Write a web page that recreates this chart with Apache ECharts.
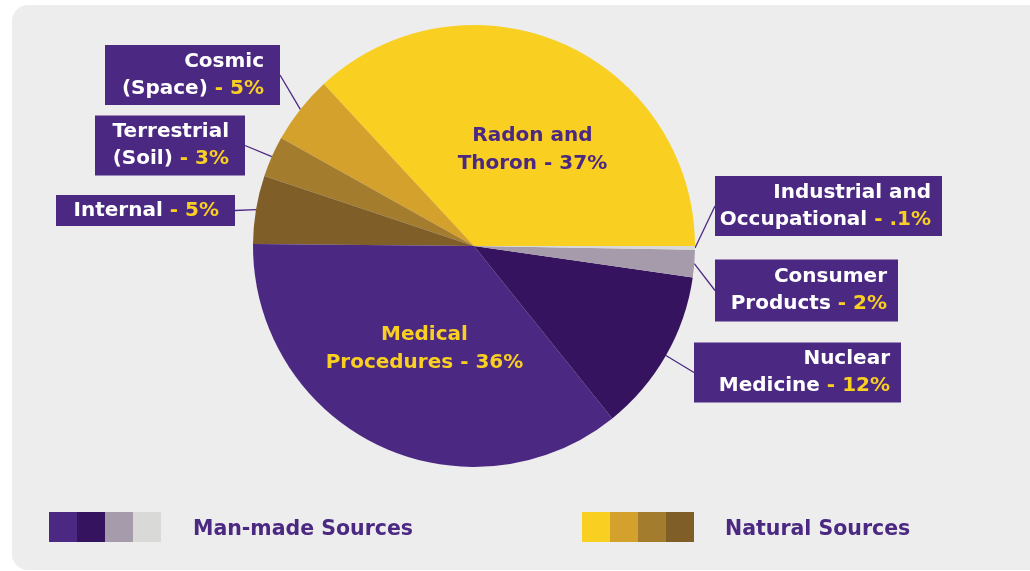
<!DOCTYPE html>
<html><head><meta charset="utf-8">
<script src="https://cdn.jsdelivr.net/npm/echarts@6/dist/echarts.min.js"></script>
<style>html,body{margin:0;padding:0;background:#fff;} #c{width:1030px;height:571px;}</style>
</head><body><div id="c"></div>
<script>
// ---- data ----
const categories = ['Radon and\nThoron', 'Cosmic\n(Space)', 'Terrestrial\n(Soil)', 'Internal',
  'Medical\nProcedures', 'Nuclear\nMedicine', 'Consumer\nProducts', 'Industrial and\nOccupational'];
const values = [37, 5, 3, 5, 36, 12, 2, 0.1];
const percentLabels = ['37%', '5%', '3%', '5%', '36%', '12%', '2%', '.1%'];
const sliceColors = ['#F9CF22', '#D4A22C', '#A47C2E', '#7F5E28', '#4B2882', '#36135F', '#A59BAA', '#D9D9D7'];
const groupNames = ['Man-made Sources', 'Natural Sources'];
const groupColors = [['#4B2882', '#36135F', '#A59BAA', '#D9D9D7'], ['#F9CF22', '#D4A22C', '#A47C2E', '#7F5E28']];

// ---- style / layout ----
const FONT = '"DejaVu Sans"';
const FS = 20;
const FS_LEGEND = 20.5;
const PURPLE = '#4B2882';
const YELLOW = '#F9CF22';
const insideIdx = [0, 4];
const insideColor = { 0: PURPLE, 4: YELLOW };
const insideOffset = { 0: [13, 8], 4: [0, 1] };
// outside label boxes: [anchorX, centerY, align, contentWidth, padding]
const labelBox = {
  1: [280, 75, 'right', 147, [3, 16, 3, 12]],
  2: [245, 145.5, 'right', 124, [3, 16, 3, 10]],
  3: [235, 210.5, 'right', 163, [2, 16, 2, 0]],
  5: [694, 372.5, 'left', 189, [3, 11, 3, 7]],
  6: [715, 290.5, 'left', 165, [4, 11, 4, 7]],
  7: [715, 206, 'left', 209, [3, 11, 3, 7]]
};

function outsideText(i) {
  const lines = categories[i].split('\n');
  return lines.map((l, k) => k === lines.length - 1
    ? '{w|' + l + '}{y| - ' + percentLabels[i] + '}'
    : '{w|' + l + '}').join('\n');
}

const data = categories.map((c, i) => {
  const item = { name: c, value: values[i], itemStyle: { color: sliceColors[i] } };
  if (insideIdx.includes(i)) {
    item.label = {
      position: 'inside', color: insideColor[i],
      formatter: c + ' - ' + percentLabels[i],
      fontFamily: FONT, fontWeight: 'bold', fontSize: FS, lineHeight: 28, align: 'center'
    };
    item.labelLine = { show: false };
  } else {
    const b = labelBox[i];
    item.label = {
      position: 'outside',
      formatter: outsideText(i),
      backgroundColor: PURPLE, padding: b[4], width: b[3], overflow: 'none',
      align: 'right',
      rich: {
        w: { color: '#fff', fontFamily: FONT, fontWeight: 'bold', fontSize: FS, lineHeight: 27, align: 'right' },
        y: { color: YELLOW, fontFamily: FONT, fontWeight: 'bold', fontSize: FS, lineHeight: 27, align: 'right' }
      }
    };
  }
  return item;
});

const graphics = [
  { type: 'rect', z: -10, silent: true, shape: { x: 12, y: 5, width: 1040, height: 565, r: 16 }, style: { fill: '#EDEDED' } }
];
const legendX = [49, 582];
const legendTextX = [193, 725];
groupNames.forEach((g, gi) => {
  groupColors[gi].forEach((col, k) => {
    graphics.push({ type: 'rect', silent: true, shape: { x: legendX[gi] + k * 28, y: 512, width: 28, height: 30 }, style: { fill: col } });
  });
  graphics.push({ type: 'text', silent: true, x: legendTextX[gi], y: 530,
    style: { text: g, fill: PURPLE, font: 'bold ' + FS_LEGEND + 'px ' + FONT, textVerticalAlign: 'middle' } });
});

const chart = echarts.init(document.getElementById('c'), null, { renderer: 'canvas' });
chart.setOption({
  backgroundColor: 'transparent',
  animation: false,
  graphic: graphics,
  series: [{
    type: 'pie',
    center: [474, 246],
    radius: [0, 221],
    startAngle: 0,
    clockwise: false,
    minAngle: 1,
    avoidLabelOverlap: false,
    data: data,
    labelLine: { show: true, lineStyle: { color: PURPLE, width: 1.3 }, length: 10, length2: 0 },
    labelLayout: function (params) {
      const i = params.dataIndex;
      const b = labelBox[i];
      if (!b) {
        const o = insideOffset[i] || [0, 0];
        return { dx: o[0], dy: o[1] };
      }
      return { x: b[0], y: b[1], align: b[2], verticalAlign: 'middle' };
    }
  }]
});
</script>
</body></html>
